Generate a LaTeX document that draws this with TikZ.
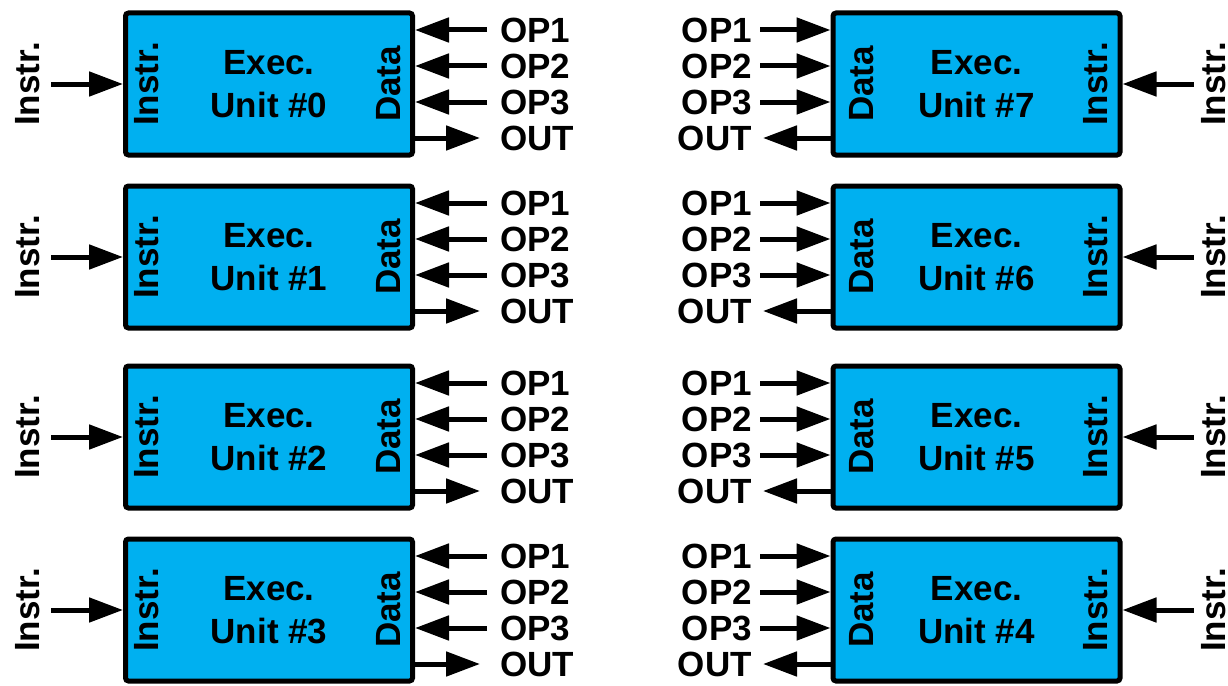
\documentclass[tikz,border=0pt]{standalone}
\usepackage{fontspec}
\setmainfont{Liberation Sans}
\usetikzlibrary{arrows.meta}
\definecolor{unitblue}{RGB}{0,176,240}

\begin{document}
\begin{tikzpicture}[x=1pt, y=-1pt,
  font=\fontsize{35}{43}\selectfont\bfseries,
  unit/.style={draw, line width=5pt, fill=unitblue, rounded corners=3pt,
    minimum width=287pt, minimum height=142pt, align=center, inner sep=0pt},
  side/.style={rotate=90, inner sep=0pt},
  tag/.style={inner sep=0pt},
  arr/.style={line width=5pt, -{Triangle[length=34pt,width=24pt]}}]
\useasboundingbox (0,0) rectangle (1228,685);

% left column, units 0 to 3
\node[unit] (u0) at (269,84) {Exec.\\Unit \#0};
\node[side] (i0) at (147,84) {Instr.};
\node[side] (d0) at (389,84) {Data};
\node[side] (n0) at (28,84) {Instr.};
\node[tag, anchor=west] (a0) at (500,30) {OP1};
\node[tag, anchor=west] (b0) at (500,66) {OP2};
\node[tag, anchor=west] (c0) at (500,102) {OP3};
\node[tag, anchor=west] (o0) at (500,138) {OUT};
\draw[arr, shorten <=11pt] (n0) -- (u0);
\draw[arr, shorten <=13pt] (a0.west) -- (a0.west -| u0.east);
\draw[arr, shorten <=13pt] (b0.west) -- (b0.west -| u0.east);
\draw[arr, shorten <=13pt] (c0.west) -- (c0.west -| u0.east);
\draw[arr, shorten >=20pt] (o0.west -| u0.east) -- (o0.west);

\node[unit] (u1) at (269,257) {Exec.\\Unit \#1};
\node[side] (i1) at (147,257) {Instr.};
\node[side] (d1) at (389,257) {Data};
\node[side] (n1) at (28,257) {Instr.};
\node[tag, anchor=west] (a1) at (500,203) {OP1};
\node[tag, anchor=west] (b1) at (500,239) {OP2};
\node[tag, anchor=west] (c1) at (500,275) {OP3};
\node[tag, anchor=west] (o1) at (500,311) {OUT};
\draw[arr, shorten <=11pt] (n1) -- (u1);
\draw[arr, shorten <=13pt] (a1.west) -- (a1.west -| u1.east);
\draw[arr, shorten <=13pt] (b1.west) -- (b1.west -| u1.east);
\draw[arr, shorten <=13pt] (c1.west) -- (c1.west -| u1.east);
\draw[arr, shorten >=20pt] (o1.west -| u1.east) -- (o1.west);

\node[unit] (u2) at (269,437) {Exec.\\Unit \#2};
\node[side] (i2) at (147,437) {Instr.};
\node[side] (d2) at (389,437) {Data};
\node[side] (n2) at (28,437) {Instr.};
\node[tag, anchor=west] (a2) at (500,383) {OP1};
\node[tag, anchor=west] (b2) at (500,419) {OP2};
\node[tag, anchor=west] (c2) at (500,455) {OP3};
\node[tag, anchor=west] (o2) at (500,491) {OUT};
\draw[arr, shorten <=11pt] (n2) -- (u2);
\draw[arr, shorten <=13pt] (a2.west) -- (a2.west -| u2.east);
\draw[arr, shorten <=13pt] (b2.west) -- (b2.west -| u2.east);
\draw[arr, shorten <=13pt] (c2.west) -- (c2.west -| u2.east);
\draw[arr, shorten >=20pt] (o2.west -| u2.east) -- (o2.west);

\node[unit] (u3) at (269,610) {Exec.\\Unit \#3};
\node[side] (i3) at (147,610) {Instr.};
\node[side] (d3) at (389,610) {Data};
\node[side] (n3) at (28,610) {Instr.};
\node[tag, anchor=west] (a3) at (500,556) {OP1};
\node[tag, anchor=west] (b3) at (500,592) {OP2};
\node[tag, anchor=west] (c3) at (500,628) {OP3};
\node[tag, anchor=west] (o3) at (500,664) {OUT};
\draw[arr, shorten <=11pt] (n3) -- (u3);
\draw[arr, shorten <=13pt] (a3.west) -- (a3.west -| u3.east);
\draw[arr, shorten <=13pt] (b3.west) -- (b3.west -| u3.east);
\draw[arr, shorten <=13pt] (c3.west) -- (c3.west -| u3.east);
\draw[arr, shorten >=20pt] (o3.west -| u3.east) -- (o3.west);

% right column, units 7 down to 4
\node[unit] (u7) at (976.5,84) {Exec.\\Unit \#7};
\node[side] (d7) at (862,84) {Data};
\node[side] (i7) at (1096,84) {Instr.};
\node[side] (n7) at (1214,84) {Instr.};
\node[tag, anchor=east] (a7) at (752,30) {OP1};
\node[tag, anchor=east] (b7) at (752,66) {OP2};
\node[tag, anchor=east] (c7) at (752,102) {OP3};
\node[tag, anchor=east] (o7) at (752,138) {OUT};
\draw[arr, shorten <=8pt] (n7) -- (u7);
\draw[arr, shorten <=8pt] (a7.east) -- (a7.east -| u7.west);
\draw[arr, shorten <=8pt] (b7.east) -- (b7.east -| u7.west);
\draw[arr, shorten <=8pt] (c7.east) -- (c7.east -| u7.west);
\draw[arr, shorten >=11pt] (o7.east -| u7.west) -- (o7.east);

\node[unit] (u6) at (976.5,257) {Exec.\\Unit \#6};
\node[side] (d6) at (862,257) {Data};
\node[side] (i6) at (1096,257) {Instr.};
\node[side] (n6) at (1214,257) {Instr.};
\node[tag, anchor=east] (a6) at (752,203) {OP1};
\node[tag, anchor=east] (b6) at (752,239) {OP2};
\node[tag, anchor=east] (c6) at (752,275) {OP3};
\node[tag, anchor=east] (o6) at (752,311) {OUT};
\draw[arr, shorten <=8pt] (n6) -- (u6);
\draw[arr, shorten <=8pt] (a6.east) -- (a6.east -| u6.west);
\draw[arr, shorten <=8pt] (b6.east) -- (b6.east -| u6.west);
\draw[arr, shorten <=8pt] (c6.east) -- (c6.east -| u6.west);
\draw[arr, shorten >=11pt] (o6.east -| u6.west) -- (o6.east);

\node[unit] (u5) at (976.5,437) {Exec.\\Unit \#5};
\node[side] (d5) at (862,437) {Data};
\node[side] (i5) at (1096,437) {Instr.};
\node[side] (n5) at (1214,437) {Instr.};
\node[tag, anchor=east] (a5) at (752,383) {OP1};
\node[tag, anchor=east] (b5) at (752,419) {OP2};
\node[tag, anchor=east] (c5) at (752,455) {OP3};
\node[tag, anchor=east] (o5) at (752,491) {OUT};
\draw[arr, shorten <=8pt] (n5) -- (u5);
\draw[arr, shorten <=8pt] (a5.east) -- (a5.east -| u5.west);
\draw[arr, shorten <=8pt] (b5.east) -- (b5.east -| u5.west);
\draw[arr, shorten <=8pt] (c5.east) -- (c5.east -| u5.west);
\draw[arr, shorten >=11pt] (o5.east -| u5.west) -- (o5.east);

\node[unit] (u4) at (976.5,610) {Exec.\\Unit \#4};
\node[side] (d4) at (862,610) {Data};
\node[side] (i4) at (1096,610) {Instr.};
\node[side] (n4) at (1214,610) {Instr.};
\node[tag, anchor=east] (a4) at (752,556) {OP1};
\node[tag, anchor=east] (b4) at (752,592) {OP2};
\node[tag, anchor=east] (c4) at (752,628) {OP3};
\node[tag, anchor=east] (o4) at (752,664) {OUT};
\draw[arr, shorten <=8pt] (n4) -- (u4);
\draw[arr, shorten <=8pt] (a4.east) -- (a4.east -| u4.west);
\draw[arr, shorten <=8pt] (b4.east) -- (b4.east -| u4.west);
\draw[arr, shorten <=8pt] (c4.east) -- (c4.east -| u4.west);
\draw[arr, shorten >=11pt] (o4.east -| u4.west) -- (o4.east);
\end{tikzpicture}
\end{document}
